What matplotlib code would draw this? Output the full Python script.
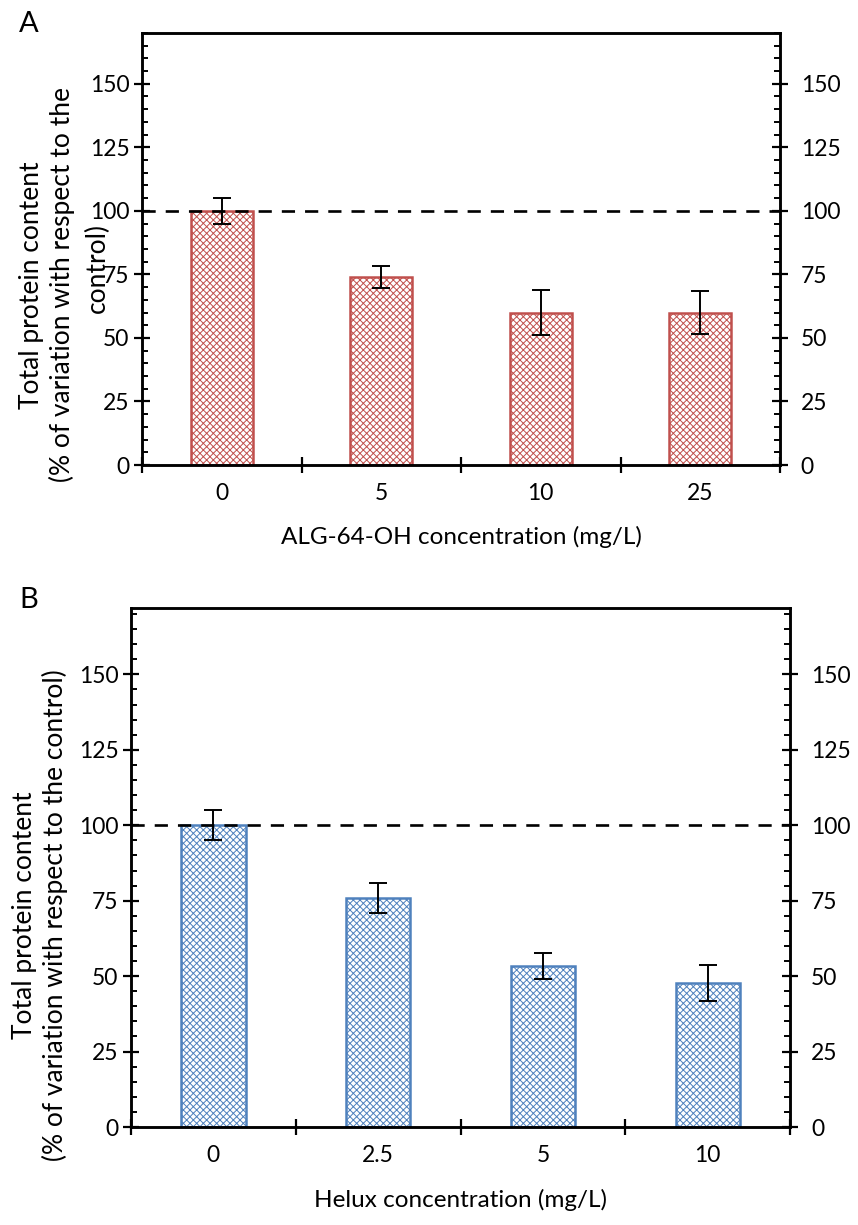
import numpy as np
import matplotlib
matplotlib.use("Agg")
import matplotlib.pyplot as plt
from matplotlib.ticker import MultipleLocator, FixedLocator, NullFormatter

plt.rcParams['font.family'] = ['Lato', 'DejaVu Sans']
plt.rcParams['hatch.linewidth'] = 0.7

# --- donnees ---
alg_labels = ['0', '5', '10', '25']
alg_vals = [100, 74, 60, 60]
alg_err = [5, 4.2, 9, 8.5]

helux_labels = ['0', '2.5', '5', '10']
helux_vals = [100, 76, 53.3, 47.6]
helux_err = [5, 5, 4.3, 6]

control_level = 100

fig = plt.figure(figsize=(8.58, 12.25), dpi=100)


def panel(rect, labels, vals, err, color, ymax, xlabel, ylabel_parts, xlab_y,
          letter, letter_y):
    ax = fig.add_axes(rect)
    x = np.arange(len(vals))
    ax.bar(x, vals, width=0.39, color='white', edgecolor=color, linewidth=1.8,
           hatch='xxxxx', zorder=2)
    ax.errorbar(x, vals, yerr=err, fmt='none', ecolor='black', elinewidth=1.4,
                capsize=6.5, capthick=1.4, zorder=3)
    ax.axhline(control_level, color='black', lw=1.9, ls=(0, (5, 3.8)), zorder=4)

    ax.set_xlim(-0.5, len(vals) - 0.5)
    ax.set_ylim(0, ymax)
    for s in ax.spines.values():
        s.set_linewidth(1.8)

    # ticks x : traits aux limites de categories, etiquettes au centre
    ax.xaxis.set_major_locator(FixedLocator(np.arange(-0.5, len(vals), 1.0)))
    ax.xaxis.set_major_formatter(NullFormatter())
    ax.xaxis.set_minor_locator(FixedLocator(x))
    ax.set_xticklabels(labels, minor=True)
    ax.tick_params(axis='x', which='major', direction='inout', length=12, width=1.6, top=False)
    ax.tick_params(axis='x', which='minor', length=0, pad=13, labelsize=16.5)

    ax.yaxis.set_major_locator(MultipleLocator(25))
    ax.yaxis.set_minor_locator(MultipleLocator(5))
    ax.tick_params(axis='y', which='major', direction='inout', length=12, width=1.6,
                   labelsize=16.5, pad=3)
    ax.tick_params(axis='y', which='minor', direction='in', length=4.5, width=1.4)

    ax2 = ax.twinx()
    ax2.set_ylim(0, ymax)
    ax2.yaxis.set_major_locator(MultipleLocator(25))
    ax2.yaxis.set_minor_locator(MultipleLocator(5))
    ax2.tick_params(axis='y', which='major', direction='inout', length=12, width=1.6,
                    labelsize=16.5, pad=9)
    ax2.tick_params(axis='y', which='minor', direction='in', length=4.5, width=1.4)
    for s in ax2.spines.values():
        s.set_linewidth(1.8)

    fig.text(rect[0] + rect[2] / 2, xlab_y, xlabel, ha='center', va='center', fontsize=17.5)
    # titre y (le retour a la ligne de "control)" comme dans l'original)
    for txt, px, py in ylabel_parts:
        fig.text(px / 858, 1 - py / 1225, txt, rotation=90, ha='center', va='center',
                 fontsize=19, multialignment='center', linespacing=1.2)
    fig.text(0.022, letter_y, letter, fontsize=21, ha='left', va='center')
    return ax


panel([0.1655, 0.6204, 0.7436, 0.3527], alg_labels, alg_vals, alg_err, '#C0504D', 170,
      'ALG-64-OH concentration (mg/L)',
      [('Total protein content\n(% of variation with respect to the', 47, 285),
       ('control)', 97, 268)],
      1 - 537 / 1225, 'A', 1 - 24 / 1225)

panel([0.1527, 0.0800, 0.7681, 0.4237], helux_labels, helux_vals, helux_err, '#4F81BD', 172,
      'Helux concentration (mg/L)',
      [('Total protein content\n(% of variation with respect to the control)', 40, 915)],
      1 - 1200 / 1225, 'B', 1 - 600 / 1225)

fig.savefig('out.png', dpi=100)
